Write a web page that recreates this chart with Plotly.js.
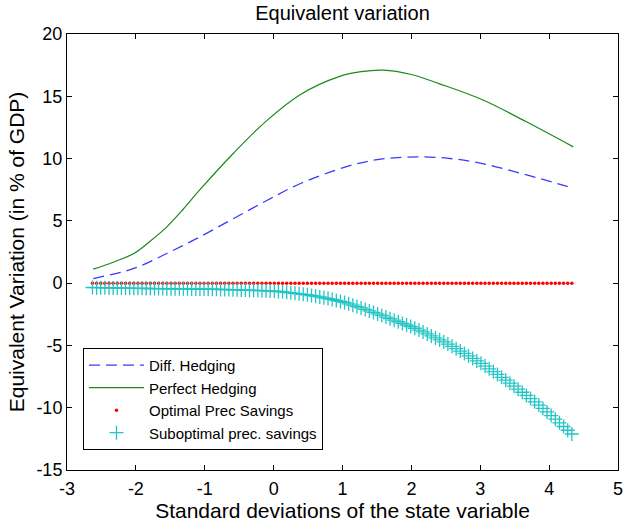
<!DOCTYPE html>
<html>
<head>
<meta charset="utf-8">
<script src="https://cdn.plot.ly/plotly-3.0.1.min.js"></script>
<style>html,body{margin:0;padding:0;background:#fff;}#chart{width:623px;height:527px;}</style>
</head>
<body>
<div id="chart"></div>
<script>
// Perfect Hedging (green solid)
const perfectX = [-2.62, -2.33, -2.03, -1.79, -1.55, -1.31, -1.07, -0.58, -0.10, 0.39, 0.96, 1.27, 1.59, 2.00, 2.41, 3.04, 3.67, 4.35];
const perfectY = [1.12, 1.68, 2.38, 3.38, 4.52, 5.95, 7.50, 10.45, 13.05, 15.15, 16.60, 16.98, 17.10, 16.75, 16.00, 14.70, 12.95, 10.94];
// Diff. Hedging (blue dashed)
const diffX = [-2.62, -2.03, -1.55, -1.07, -0.58, -0.10, 0.39, 1.06, 1.45, 1.80, 2.17, 2.54, 2.90, 3.26, 3.62, 3.96, 4.25, 4.35];
const diffY = [0.37, 1.18, 2.38, 3.72, 5.19, 6.63, 8.00, 9.35, 9.87, 10.08, 10.14, 10.02, 9.74, 9.30, 8.77, 8.25, 7.78, 7.62];
// Optimal Prec Savings and Suboptimal prec. savings share the x grid
const gridX = [-2.63,-2.57,-2.51,-2.45,-2.39,-2.33,-2.27,-2.21,-2.15,-2.09,-2.03,-1.97,-1.91,-1.85,-1.79,-1.73,-1.67,-1.61,-1.55,-1.49,-1.43,-1.37,-1.31,-1.25,-1.19,-1.13,-1.07,-1.01,-0.95,-0.89,-0.83,-0.77,-0.71,-0.65,-0.59,-0.53,-0.47,-0.41,-0.35,-0.29,-0.23,-0.17,-0.11,-0.05,0.01,0.07,0.13,0.19,0.25,0.31,0.37,0.43,0.49,0.55,0.61,0.67,0.73,0.79,0.85,0.91,0.97,1.03,1.09,1.15,1.21,1.27,1.33,1.39,1.45,1.51,1.57,1.63,1.69,1.75,1.81,1.87,1.93,1.99,2.05,2.11,2.17,2.23,2.29,2.35,2.41,2.47,2.53,2.59,2.65,2.71,2.77,2.83,2.89,2.95,3.01,3.07,3.13,3.19,3.25,3.31,3.37,3.43,3.49,3.55,3.61,3.67,3.73,3.79,3.85,3.91,3.97,4.03,4.09,4.15,4.21,4.27,4.33];
const optimalY = [0,0,0,0,0,0,0,0,0,0,0,0,0,0,0,0,0,0,0,0,0,0,0,0,0,0,0,0,0,0,0,0,0,0,0,0,0,0,0,0,0,0,0,0,0,0,0,0,0,0,0,0,0,0,0,0,0,0,0,0,0,0,0,0,0,0,0,0,0,0,0,0,0,0,0,0,0,0,0,0,0,0,0,0,0,0,0,0,0,0,0,0,0,0,0,0,0,0,0,0,0,0,0,0,0,0,0,0,0,0,0,0,0,0,0,0,0];
const suboptY = [-0.35,-0.36,-0.36,-0.37,-0.38,-0.38,-0.39,-0.40,-0.40,-0.41,-0.42,-0.42,-0.42,-0.43,-0.43,-0.44,-0.44,-0.44,-0.45,-0.45,-0.45,-0.46,-0.46,-0.46,-0.47,-0.47,-0.48,-0.48,-0.49,-0.49,-0.50,-0.51,-0.51,-0.52,-0.53,-0.54,-0.55,-0.56,-0.57,-0.58,-0.59,-0.60,-0.62,-0.63,-0.64,-0.67,-0.70,-0.74,-0.78,-0.82,-0.86,-0.90,-0.94,-0.99,-1.05,-1.11,-1.18,-1.24,-1.31,-1.39,-1.47,-1.55,-1.66,-1.77,-1.88,-1.99,-2.11,-2.23,-2.35,-2.47,-2.59,-2.72,-2.85,-2.97,-3.10,-3.23,-3.36,-3.48,-3.62,-3.77,-3.92,-4.08,-4.24,-4.40,-4.56,-4.72,-4.89,-5.07,-5.26,-5.45,-5.64,-5.84,-6.04,-6.24,-6.44,-6.66,-6.88,-7.10,-7.33,-7.56,-7.79,-8.03,-8.27,-8.51,-8.76,-9.01,-9.27,-9.53,-9.79,-10.06,-10.34,-10.63,-10.92,-11.21,-11.51,-11.81,-12.11];
// Ticks
const xTickVals = [-3, -2, -1, 0, 1, 2, 3, 4, 5];
const xTickText = ["-3", "-2", "-1", "0", "1", "2", "3", "4", "5"];
const yTickVals = [-15, -10, -5, 0, 5, 10, 15, 20];
const yTickText = ["-15", "-10", "-5", "0", "5", "10", "15", "20"];

const FONT = "Liberation Sans, Arial, Helvetica, sans-serif";

const traces = [
  {x: diffX, y: diffY, name: "Diff. Hedging", type: "scatter", mode: "lines",
   line: {color: "#3a3aff", width: 1.3, dash: "11px,6px", shape: "spline"}},
  {x: perfectX, y: perfectY, name: "Perfect Hedging", type: "scatter", mode: "lines",
   line: {color: "#1a8a1a", width: 1.2, shape: "spline"}},
  {x: gridX, y: optimalY, name: "Optimal Prec Savings", type: "scatter", mode: "markers",
   marker: {color: "#ff0000", size: 3.5, symbol: "circle"}},
  {x: gridX, y: suboptY, name: "Suboptimal prec. savings", type: "scatter", mode: "markers",
   marker: {color: "#22c4c4", size: 10, symbol: "cross-thin", line: {color: "#22c4c4", width: 1.3}}}
];

const axisCommon = {
  showline: true, linecolor: "#000", linewidth: 1, mirror: "ticks",
  ticks: "inside", ticklen: 5, tickwidth: 1, tickcolor: "#000",
  showgrid: false, zeroline: false, ticklabeloverflow: "allow",
  tickfont: {family: FONT, size: 18, color: "#000"}
};

const layout = {
  width: 623, height: 527,
  margin: {l: 67, r: 5, t: 34, b: 57},
  paper_bgcolor: "#fff", plot_bgcolor: "#fff",
  font: {family: FONT, color: "#000"},
  title: {text: "Equivalent variation", font: {family: FONT, size: 20, color: "#000"},
          x: 0.5, xref: "paper", xanchor: "center", y: 0.976, yanchor: "middle", yref: "container"},
  xaxis: Object.assign({}, axisCommon, {
    range: [-3, 5], tickvals: xTickVals, ticktext: xTickText, ticklabelstandoff: 2,
    title: {text: "Standard deviations of the state variable", font: {family: FONT, size: 21, color: "#000"}, standoff: 0}
  }),
  yaxis: Object.assign({}, axisCommon, {
    range: [-15, 20], tickvals: yTickVals, ticktext: yTickText,
    title: {text: "Equivalent Variation (in % of GDP)", font: {family: FONT, size: 21, color: "#000"}, standoff: 6}
  }),
  showlegend: true,
  legend: {x: 0.029, y: 0.28, xanchor: "left", yanchor: "top",
           bgcolor: "#fff", bordercolor: "#000", borderwidth: 1,
           font: {family: FONT, size: 15, color: "#000"},
           itemwidth: 55, tracegroupgap: 0}
};

Plotly.newPlot("chart", traces, layout, {displayModeBar: false, staticPlot: true});
</script>
</body>
</html>
